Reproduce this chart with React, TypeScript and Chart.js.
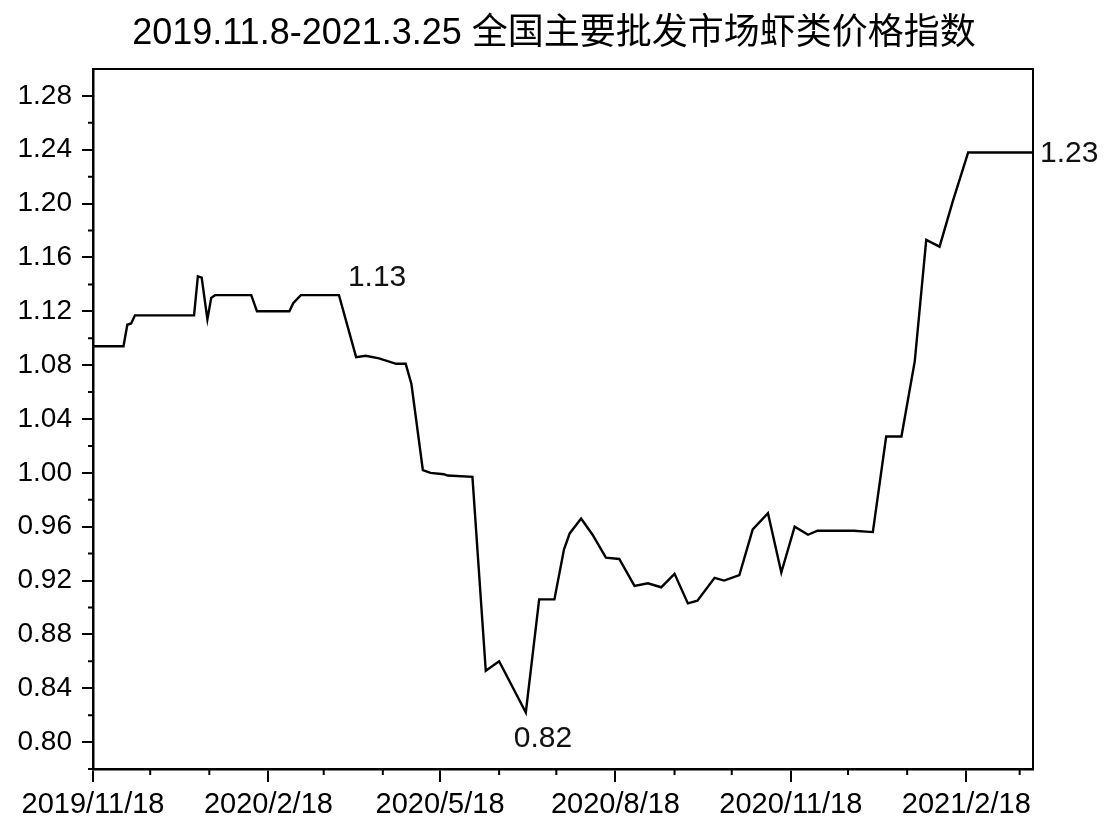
import React, { useEffect, useRef } from "react";
import { Chart, registerables, Plugin } from "chart.js";

Chart.register(...registerables);

// 全国主要批发市场虾类价格指数
const dates = [
  "2019-11-08", "2019-11-18", "2019-12-04", "2019-12-06", "2019-12-08", "2019-12-10",
  "2020-01-10", "2020-01-12", "2020-01-14", "2020-01-17", "2020-01-19", "2020-01-21",
  "2020-02-09", "2020-02-12", "2020-02-29", "2020-03-02", "2020-03-06", "2020-03-26",
  "2020-04-04", "2020-04-09", "2020-04-16", "2020-04-25", "2020-04-30", "2020-05-03",
  "2020-05-09", "2020-05-13", "2020-05-20", "2020-05-22", "2020-06-04", "2020-06-11",
  "2020-06-18", "2020-07-02", "2020-07-09", "2020-07-17", "2020-07-22", "2020-07-25",
  "2020-07-31", "2020-08-06", "2020-08-13", "2020-08-20", "2020-08-28", "2020-09-04",
  "2020-09-11", "2020-09-18", "2020-09-25", "2020-09-30", "2020-10-09", "2020-10-14",
  "2020-10-22", "2020-10-29", "2020-11-06", "2020-11-13", "2020-11-20", "2020-11-27",
  "2020-12-02", "2020-12-21", "2020-12-31", "2021-01-07", "2021-01-15", "2021-01-22",
  "2021-01-28", "2021-02-04", "2021-02-11", "2021-02-19", "2021-03-25",
];
const priceIndex = [
  1.094, 1.094, 1.094, 1.110, 1.111, 1.117,
  1.117, 1.146, 1.145, 1.114, 1.130, 1.132,
  1.132, 1.120, 1.120, 1.126, 1.132, 1.132,
  1.086, 1.087, 1.085, 1.081, 1.081, 1.066,
  1.002, 1.000, 0.999, 0.998, 0.997, 0.853,
  0.860, 0.822, 0.906, 0.906, 0.943, 0.955,
  0.966, 0.954, 0.937, 0.936, 0.916, 0.918,
  0.915, 0.925, 0.903, 0.905, 0.922, 0.920,
  0.924, 0.958, 0.970, 0.926, 0.960, 0.954,
  0.957, 0.957, 0.956, 1.027, 1.027, 1.083,
  1.173, 1.168, 1.202, 1.238, 1.238,
];

const axisStart = "2019-11-18";
const axisEnd = "2021-03-25";
const xMajorTicks = ["2019-11-18", "2020-02-18", "2020-05-18", "2020-08-18", "2020-11-18", "2021-02-18"];
const xTickLabels = ["2019/11/18", "2020/2/18", "2020/5/18", "2020/8/18", "2020/11/18", "2021/2/18"];
const xMinorTicks = [
  "2019-12-18", "2020-01-18", "2020-03-18", "2020-04-18", "2020-06-18", "2020-07-18",
  "2020-09-18", "2020-10-18", "2020-12-18", "2021-01-18", "2021-03-18",
];

const yMin = 0.78;
const yMax = 1.3;
const yMajorTicks = [0.8, 0.84, 0.88, 0.92, 0.96, 1.0, 1.04, 1.08, 1.12, 1.16, 1.2, 1.24, 1.28];
const yMinorTicks = [0.78, 0.82, 0.86, 0.9, 0.94, 0.98, 1.02, 1.06, 1.1, 1.14, 1.18, 1.22, 1.26];

const noteTexts = ["1.13", "0.82", "1.23"];
const noteDates = ["2020-04-15", "2020-07-11", "2021-03-25"];
const noteValues = [1.145, 0.8025, 1.237];

const title = "2019.11.8-2021.3.25 全国主要批发市场虾类价格指数";
const font = "'Liberation Sans', Arial, 'Noto Sans CJK SC', sans-serif";

const dayOf = (d: string) => {
  const [y, m, dd] = d.split("-").map(Number);
  const [y0, m0, d0] = axisStart.split("-").map(Number);
  return Math.round((Date.UTC(y, m - 1, dd) - Date.UTC(y0, m0 - 1, d0)) / 86400000);
};

const extras: Plugin<"line"> = {
  id: "extras",
  afterDraw(chart) {
    const { ctx, chartArea: a, scales } = chart;
    const x = scales.x;
    const y = scales.y;
    ctx.save();
    ctx.strokeStyle = "#000";
    ctx.lineWidth = 2;
    ctx.beginPath();
    ctx.moveTo(a.left, a.top);
    ctx.lineTo(a.right, a.top);
    ctx.lineTo(a.right, a.bottom);
    for (const d of xMinorTicks) {
      const px = x.getPixelForValue(dayOf(d));
      ctx.moveTo(px, a.bottom);
      ctx.lineTo(px, a.bottom + 6);
    }
    for (const v of yMinorTicks) {
      const py = y.getPixelForValue(v);
      ctx.moveTo(a.left, py);
      ctx.lineTo(a.left - 5, py);
    }
    ctx.stroke();

    // title, centred on the whole canvas
    ctx.fillStyle = "#000";
    ctx.font = `36px ${font}`;
    ctx.textAlign = "center";
    ctx.textBaseline = "middle";
    ctx.fillText(title, chart.width / 2, 34);

    ctx.fillStyle = "#111";
    ctx.font = `30px ${font}`;
    noteTexts.forEach((t, i) => {
      const last = i === noteTexts.length - 1;
      ctx.textAlign = last ? "left" : "center";
      const px = x.getPixelForValue(dayOf(noteDates[i])) + (last ? 7 : 0);
      ctx.fillText(t, px, y.getPixelForValue(noteValues[i]));
    });
    ctx.restore();
  },
};

export default function App() {
  const canvasRef = useRef<HTMLCanvasElement>(null);

  useEffect(() => {
    document.body.style.margin = "0";
    const ctx = canvasRef.current?.getContext("2d");
    if (!ctx) return;
    const chart = new Chart(ctx, {
      type: "line",
      data: {
        datasets: [
          {
            label: "虾类价格指数",
            data: dates.map((d, i) => ({ x: dayOf(d), y: priceIndex[i] })),
            borderColor: "#000",
            borderWidth: 2.4,
            pointRadius: 0,
            tension: 0,
            fill: false,
          },
        ],
      },
      options: {
        animation: false,
        responsive: true,
        maintainAspectRatio: false,
        layout: { padding: { top: 69, right: 75, bottom: 0, left: 0 } },
        plugins: {
          legend: { display: false },
          tooltip: { enabled: false },
          title: { display: false },
        },
        scales: {
          x: {
            type: "linear",
            min: 0,
            max: dayOf(axisEnd),
            afterBuildTicks: (scale) => {
              scale.ticks = xMajorTicks.map((d) => ({ value: dayOf(d) }));
            },
            afterFit: (scale) => {
              scale.height = 67;
            },
            ticks: {
              autoSkip: false,
              maxRotation: 0,
              color: "#000",
              padding: 6,
              font: { family: font, size: 29 },
              callback: (_v, i) => xTickLabels[i],
            },
            grid: {
              display: true,
              drawOnChartArea: false,
              drawTicks: true,
              tickLength: 13,
              color: "#000",
              lineWidth: 2,
            },
            border: { display: true, color: "#000", width: 2.5 },
          },
          y: {
            type: "linear",
            min: yMin,
            max: yMax,
            afterBuildTicks: (scale) => {
              scale.ticks = yMajorTicks.map((v) => ({ value: v }));
            },
            afterFit: (scale) => {
              scale.width = 93;
            },
            ticks: {
              color: "#000",
              padding: 10,
              font: { family: font, size: 28 },
              callback: (v) => Number(v).toFixed(2),
            },
            grid: {
              display: true,
              drawOnChartArea: false,
              drawTicks: true,
              tickLength: 11,
              color: "#000",
              lineWidth: 2,
            },
            border: { display: true, color: "#000", width: 2.5 },
          },
        },
      },
      plugins: [extras],
    });
    return () => {
      chart.destroy();
    };
  }, []);

  return (
    <div style={{ width: 1108, height: 836, position: "relative", background: "#fff" }}>
      <canvas ref={canvasRef} />
    </div>
  );
}
